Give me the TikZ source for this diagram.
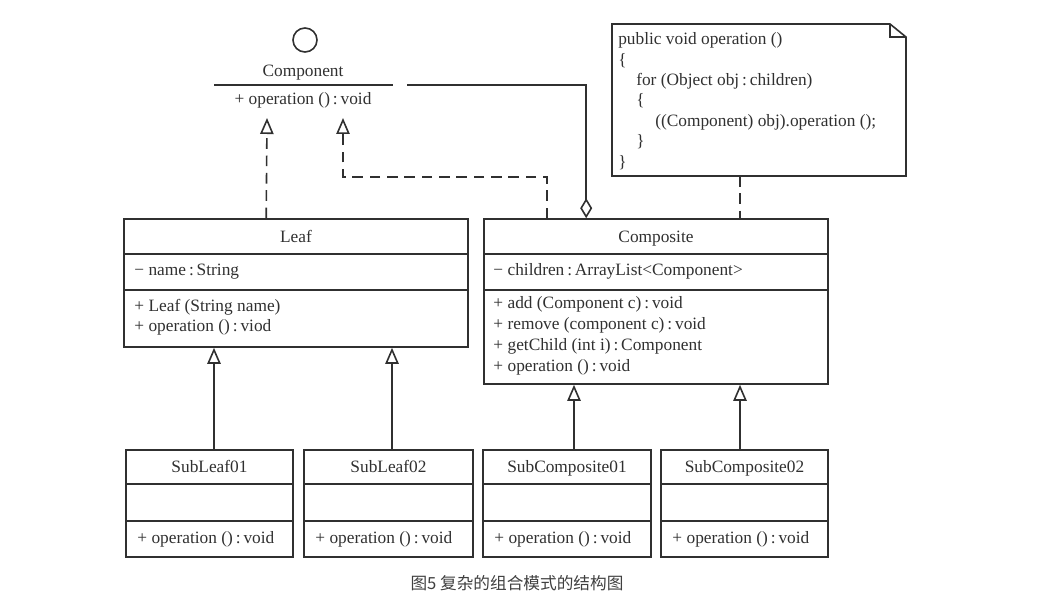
\documentclass[tikz,border=0pt]{standalone}
\usepackage{fontspec}
\setmainfont{Liberation Serif}
\newfontfamily\cjk{Noto Sans CJK SC}
\usetikzlibrary{arrows.meta,calc,positioning}
\definecolor{ink}{HTML}{303030}
\definecolor{capgray}{HTML}{404040}
\newcommand\tcol{\,:\,}

\tikzset{
 cls/.style 2 args={draw=ink,line width=1.2pt,inner sep=0pt,minimum width=#1*0.75pt,minimum height=#2*0.75pt},
 member/.style={anchor=west,inner sep=0pt,text=ink,align=left,font=\fontsize{13}{15.6}\selectfont},
 cname/.style={inner sep=0pt,text=ink,text depth=0pt,font=\fontsize{13}{15.6}\selectfont},
 line/.style={draw=ink,line width=1.2pt},
 gen/.style={line,-{Triangle[open,length=12pt,width=10pt]}},
 real/.style={gen,dash pattern=on 8pt off 5pt},
 agg/.style={line,-{Diamond[open,length=15pt,width=9pt]}},
 dep/.style={line,dash pattern=on 8pt off 5pt},
}

\begin{document}
\begin{tikzpicture}[x=0.75pt,y=-0.75pt]
 \useasboundingbox (0,0) rectangle (1045,606);
 % interface
 \node[circle,line,minimum size=18pt,inner sep=0pt] (iface) at (305,40) {};
 \node[cname,anchor=base] (compname) at (303,77) {Component};
 \draw[line] (214,85) -- (393,85);
 \node[member,anchor=center] (compop) at (303,100) {+ operation ()\tcol void};
 \coordinate (ra) at (267,118);
 \coordinate (rb) at (343,118);
 \coordinate (aggstart) at (407,85);

 % note
 \draw[line] (612,24) -- (890,24) -- (906,37) -- (906,176) -- (612,176) -- cycle;
 \draw[line] (890,24) |- (906,37);
 \node[member,font=\fontsize{13}{15.3}\selectfont] (note) at (618,101) {public void operation ()\\
  \{\\
  \hspace*{13.5pt}for (Object obj\tcol children)\\
  \hspace*{13.5pt}\{\\
  \hspace*{27.75pt}((Component) obj).operation ();\\
  \hspace*{13.5pt}\}\\
  \}};
 \coordinate (notebot) at (740,176);

 % Leaf
 \node[cls={344}{128}] (leaf) at (296,283) {};
 \draw[line] ($(leaf.north west)+(0,36)$) -- ($(leaf.north east)+(0,36)$);
 \draw[line] ($(leaf.north west)+(0,72)$) -- ($(leaf.north east)+(0,72)$);
 \node[cname,anchor=base] (leaft) at ($(leaf.north)+(0,24)$) {Leaf};
 \node[member] (leafattr) at ($(leaf.north west)+(11,53)$) {− name\tcol String};
 \node[member] (leafops) at ($(leaf.north west)+(11,99)$) {+ Leaf (String name)\\+ operation ()\tcol viod};

 % Composite
 \node[cls={344}{165}] (comp) at (656,301.5) {};
 \draw[line] ($(comp.north west)+(0,36)$) -- ($(comp.north east)+(0,36)$);
 \draw[line] ($(comp.north west)+(0,72)$) -- ($(comp.north east)+(0,72)$);
 \node[cname,anchor=base] (compt) at ($(comp.north)+(0,24)$) {Composite};
 \node[member] (compattr) at ($(comp.north west)+(10,53)$) {− children\tcol ArrayList<Component>};
 \node[member,font=\fontsize{13}{15.75}\selectfont] (compops) at ($(comp.north west)+(10,117.5)$) {+ add (Component c)\tcol void\\+ remove (component c)\tcol void\\+ getChild (int i)\tcol Component\\+ operation ()\tcol void};

 % subclasses
 \foreach \n/\cx/\w/\t in {sl1/209.5/167/SubLeaf01,sl2/388.5/169/SubLeaf02,sc1/567/168/SubComposite01,sc2/744.5/167/SubComposite02}{
  \node[cls={\w}{107}] (\n) at (\cx,503.5) {};
  \draw[line] ($(\n.north west)+(0,35)$) -- ($(\n.north east)+(0,35)$);
  \draw[line] ($(\n.north west)+(0,72)$) -- ($(\n.north east)+(0,72)$);
  \node[cname,anchor=base] (\n t) at ($(\n.north)+(0,23)$) {\t};
  \node[member] (\n op) at ($(\n.north west)+(12,90)$) {+ operation ()\tcol void};
 }

 % connectors
 \coordinate (g1) at ($(sl1.north)+(4.5,0)$);
 \coordinate (g2) at ($(sl2.north)+(3.5,0)$);
 \coordinate (g3) at ($(sc1.north)+(7,0)$);
 \coordinate (g4) at ($(sc2.north)+(-4.5,0)$);
 \draw[real] ($(leaf.north west)+(143,0)$) -- (ra);
 \draw[real] ($(comp.north west)+(64,0)$) -- ++(0,-41) -| (rb);
 \draw[agg] (aggstart) -| ($(comp.north west)+(103,0)$);
 \draw[dep] (notebot) -- (notebot |- comp.north);
 \draw[gen] (g1) -- (g1 |- leaf.south);
 \draw[gen] (g2) -- (g2 |- leaf.south);
 \draw[gen] (g3) -- (g3 |- comp.south);
 \draw[gen] (g4) -- (g4 |- comp.south);

 \node[text=capgray,font=\cjk\fontsize{12.5}{14}\selectfont] (caption) at (517,583) {图5 复杂的组合模式的结构图};
\end{tikzpicture}
\end{document}
